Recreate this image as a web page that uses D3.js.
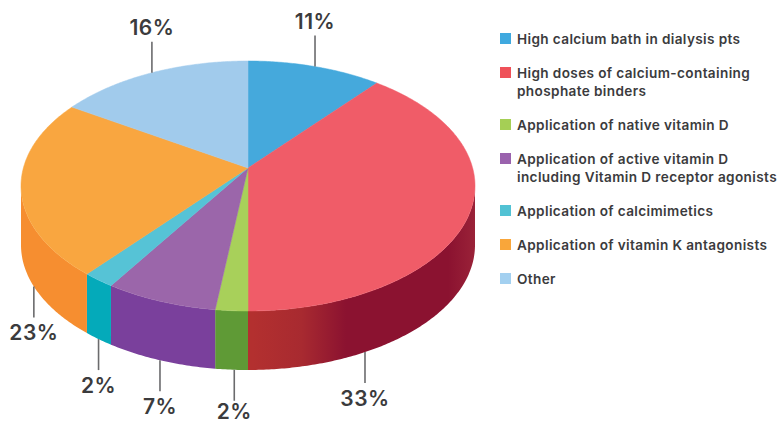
<!DOCTYPE html>
<html>
<head>
<meta charset="utf-8">
<script src="https://cdn.jsdelivr.net/npm/d3@7"></script>
<style>
  html, body { margin: 0; padding: 0; background: #fff; }
  svg { display: block; }
  text { font-family: Inter, "Open Sans", sans-serif; fill: #3b3b3d; }
</style>
</head>
<body>
<svg id="chart" width="778" height="424"></svg>
<script>
// Causes of vascular calcification, share of respondents in percent.
const categories = [
  ["High calcium bath in dialysis pts"],
  ["High doses of calcium-containing", "phosphate binders"],
  ["Application of native vitamin D"],
  ["Application of active vitamin D", "including Vitamin D receptor agonists"],
  ["Application of calcimimetics"],
  ["Application of vitamin K antagonists"],
  ["Other"]
];
const shares = [11, 33, 2, 7, 2, 23, 16];
const topColors = ["#45a9dc", "#f05c68", "#a8d05a", "#9b66aa", "#56c3d6", "#f9a640", "#a1cbec"];
const wallColors = ["#2f8fc4", "url(#bindersWall)", "#5f9a36", "#7a409c", "#04aaba", "#f68e30", "#86b6de"];
const legendColors = ["#3fa9df", "#ef5159", "#a5cf55", "#9a62ad", "#52c2d4", "#f9a63a", "#a3d0f0"];
// Direction of each callout, in degrees clockwise from the top of the pie.
const calloutAngles = [19.8, 153, 183, 199.8, 216, 243, 331.2];

// The stated shares add up to 94; the rest of the circle sits next to the
// binders wedge and shares its colour.
const remainder = 100 - d3.sum(shares);
const segments = shares.map((value, i) => ({ value, series: i }));
segments.splice(2, 0, { value: remainder, series: 1 });

const svg = d3.select("#chart");
const defs = svg.append("defs");

// Pie footprint: a unit disc seen in perspective, so its centre lands above
// the middle of the drawn ellipse.
const tilt = -0.144;
const squeeze = Math.sqrt(1 - tilt * tilt);
const xScale = d3.scaleLinear().domain([-1, 1]).range([21, 475]);
const yScale = d3.scaleLinear().domain([-1, 1]).range([61, 311]);
const depth = 59;

function project(px, py) {
  const w = 1 + tilt * py;
  return [px * squeeze / w, (py + tilt) / w];
}
function unit(theta) {
  return project(Math.sin(theta), -Math.cos(theta));
}
function rim(theta) {
  const [u, v] = unit(theta);
  return [xScale(u), yScale(v)];
}
function sweep(a0, a1) {
  const n = Math.max(2, Math.ceil((a1 - a0) / 0.01));
  return d3.range(n + 1).map(i => a0 + (a1 - a0) * i / n);
}

const arcs = d3.pie().sort(null).value(d => d.value)
  .startAngle(0).endAngle(2 * Math.PI)(segments);

// Neighbouring segments of one series are painted as a single shape.
const wedges = d3.rollups(arcs, group => ({
  series: group[0].data.series,
  startAngle: d3.min(group, a => a.startAngle),
  endAngle: d3.max(group, a => a.endAngle)
}), a => a.data.series).map(([, wedge]) => wedge);

const line = d3.line();

// Shading along the side of the binders wedge.
const gradient = defs.append("linearGradient")
  .attr("id", "bindersWall")
  .attr("gradientUnits", "userSpaceOnUse")
  .attr("x1", xScale(0.02)).attr("x2", xScale(1)).attr("y1", 0).attr("y2", 0);
[[0, "#b3302f"], [0.22, "#a82a30"], [0.42, "#8b1230"], [0.88, "#8b1230"], [1, "#9a2238"]]
  .forEach(([o, c]) => gradient.append("stop").attr("offset", o).attr("stop-color", c));

// Side walls: only the part of the rim in the front half is visible.
const walls = svg.append("g");
wedges.forEach(a => {
  const pts = sweep(a.startAngle, a.endAngle)
    .filter(t => unit(t)[1] >= 0)
    .map(rim);
  if (pts.length < 2) return;
  const outline = pts.concat(pts.slice().reverse().map(([x, y]) => [x, y + depth]));
  walls.append("path")
    .attr("d", line(outline) + "Z")
    .attr("fill", wallColors[a.series]);
});

// Top face wedges.
const apex = [xScale(project(0, 0)[0]), yScale(project(0, 0)[1])];
const faces = svg.append("g");
wedges.forEach(a => {
  const pts = [apex].concat(sweep(a.startAngle, a.endAngle).map(rim));
  faces.append("path")
    .attr("d", line(pts) + "Z")
    .attr("fill", topColors[a.series])
    .attr("stroke", topColors[a.series])
    .attr("stroke-width", 0.5);
});

// Callouts: a short rule from the rim and the share beneath or above it.
const ruleLength = 31;
const lowestBaseline = 418.5;
const callouts = svg.append("g");
shares.forEach((value, i) => {
  const theta = calloutAngles[i] * Math.PI / 180;
  const [x, y] = rim(theta);
  const front = unit(theta)[1] >= 0;
  const y0 = front ? y + depth : y;
  const y1 = front ? y0 + ruleLength : y0 - ruleLength;
  callouts.append("line")
    .attr("x1", x).attr("x2", x).attr("y1", y0).attr("y2", y1)
    .attr("stroke", "#6b6b6d").attr("stroke-width", 1.6);
  callouts.append("text")
    .attr("x", x)
    .attr("y", front ? Math.min(y1 + 23, lowestBaseline) : y1 - 7)
    .attr("text-anchor", "middle")
    .attr("font-size", 21)
    .attr("letter-spacing", 0.5)
    .attr("font-weight", 600)
    .text(value + "%");
});

// Legend.
const rowStep = 34;
const lineStep = 18;
const legend = svg.append("g").attr("transform", "translate(500,39)");
let rowY = 0;
categories.forEach((lines, i) => {
  legend.append("rect")
    .attr("x", 0).attr("y", rowY - 6).attr("width", 11).attr("height", 11)
    .attr("fill", legendColors[i]);
  lines.forEach((txt, j) => {
    legend.append("text")
      .attr("x", 17)
      .attr("y", rowY + j * lineStep + 4.5)
      .attr("font-size", 13.6)
      .attr("letter-spacing", 0.37)
      .attr("font-weight", 600)
      .text(txt);
  });
  rowY += rowStep + (lines.length - 1) * lineStep;
});
</script>
</body>
</html>
